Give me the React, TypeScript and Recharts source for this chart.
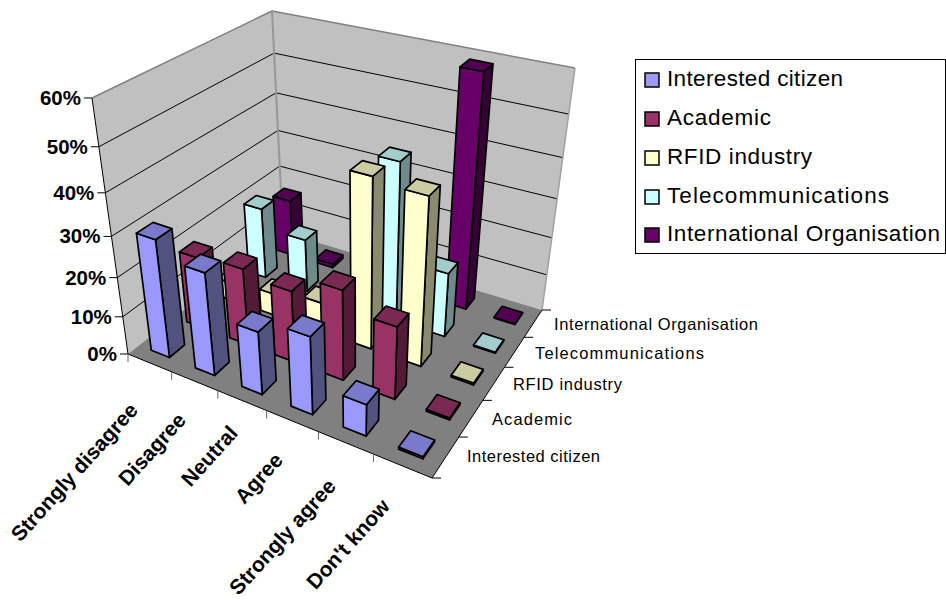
import React from 'react';
import { ScatterChart, Scatter, XAxis, YAxis } from 'recharts';

const categories = ['Strongly disagree', 'Disagree', 'Neutral', 'Agree', 'Strongly agree', "Don't know"];
const seriesNames = ['Interested citizen', 'Academic', 'RFID industry', 'Telecommunications', 'International Organisation'];
const valueTicks = ['0%', '10%', '20%', '30%', '40%', '50%', '60%'];

const interestedCitizen = [30, 26, 16, 19.5, 8, 0.5];
const academic = [19, 20, 18.5, 23, 18.5, 0.5];
const rfidIndustry = [5, 6, 8, 43, 42, 0.5];
const telecommunications = [19.5, 14.5, 3, 41, 17, 0.3];
const internationalOrganisation = [16, 1, 0, 0, 59, 0.2];
const seriesValues = [interestedCitizen, academic, rfidIndustry, telecommunications, internationalOrganisation];

const fills = ['#9999FF', '#993366', '#FFFFCC', '#CCFFFF', '#660066'];
const topFills = ['#7A7ACC', '#7A2952', '#CCCCA3', '#A3CCCC', '#520052'];
const sideFills = ['#52527F', '#521B37', '#8A8A6E', '#6E8A8A', '#360036'];

const W = 946;
const H = 601;
const MAX = 60;
const BAR = 0.42;

type P = [number, number];

const homography = (q: P[]) => {
  const [[x0, y0], [x1, y1], [x2, y2], [x3, y3]] = q;
  const dx1 = x1 - x2, dx2 = x3 - x2, sx = x0 - x1 + x2 - x3;
  const dy1 = y1 - y2, dy2 = y3 - y2, sy = y0 - y1 + y2 - y3;
  const det = dx1 * dy2 - dx2 * dy1;
  const g = (sx * dy2 - dx2 * sy) / det;
  const h = (dx1 * sy - sx * dy1) / det;
  const a = x1 - x0 + g * x1, b = x3 - x0 + h * x3;
  const d = y1 - y0 + g * y1, e = y3 - y0 + h * y3;
  return (u: number, v: number): P => {
    const z = g * u + h * v + 1;
    return [(a * u + b * v + x0) / z, (d * u + e * v + y0) / z];
  };
};

const floor = homography([[128, 354], [432, 478], [542, 310], [283, 232]]);
const ceiling = homography([[92, 98], [452, 200], [575, 68], [272, 11]]);
const SHRINK = 0.85;

const project = (u: number, v: number, value: number): P => {
  const w = value / MAX;
  const t = (w * SHRINK) / (1 - w + w * SHRINK);
  const f = floor(u, v);
  const c = ceiling(u, v);
  return [f[0] + (c[0] - f[0]) * t, f[1] + (c[1] - f[1]) * t];
};

const pts = (list: P[]) => list.map((p) => `${p[0].toFixed(1)},${p[1].toFixed(1)}`).join(' ');

const nC = categories.length;
const nS = seriesNames.length;
const FONT = '"Liberation Sans", Arial, sans-serif';

const tables = seriesValues.map((vals, s) =>
  vals.map((value, c) => {
    const [x, y] = project((c + 0.5) / nC, (s + 0.5) / nS, 0);
    return { x, y, c, s, value };
  }),
);

const BarShape = (props: any) => {
  const { cx, cy, payload } = props;
  const { c, s, value, x, y } = payload;
  const ox = cx - x, oy = cy - y;
  const u0 = (c + 0.5 - BAR / 2) / nC, u1 = (c + 0.5 + BAR / 2) / nC;
  const v0 = (s + 0.5 - BAR / 2) / nS, v1 = (s + 0.5 + BAR / 2) / nS;
  const at = (u: number, v: number, val: number): P => {
    const p = project(u, v, val);
    return [p[0] + ox, p[1] + oy];
  };
  const common = { stroke: '#000', strokeWidth: 1.7, strokeLinejoin: 'round' as const };
  return (
    <g>
      <polygon points={pts([at(u1, v0, 0), at(u1, v1, 0), at(u1, v1, value), at(u1, v0, value)])} fill={sideFills[s]} {...common} />
      <polygon points={pts([at(u0, v0, 0), at(u1, v0, 0), at(u1, v0, value), at(u0, v0, value)])} fill={fills[s]} {...common} />
      <polygon points={pts([at(u0, v0, value), at(u1, v0, value), at(u1, v1, value), at(u0, v1, value)])} fill={topFills[s]} {...common} />
    </g>
  );
};

const catLabelEnds: P[] = [[139, 411], [187, 421], [239, 434], [284, 461], [337, 487], [391, 507]];
const seriesLabelStarts: P[] = [[467, 456], [492, 419], [513, 384], [535, 353], [554, 324]];
const seriesLabelWidths = [133, 80, 109, 169, 204];
const legendRows = [79, 118, 157, 196, 234];
const legendWidths = [176, 104, 145, 222, 273];

const Backdrop = () => {
  const line = (a: P, b: P, stroke: string, sw: number, key: string) => (
    <line key={key} x1={a[0]} y1={a[1]} x2={b[0]} y2={b[1]} stroke={stroke} strokeWidth={sw} />
  );
  return (
    <g>
      <polygon points={pts([project(0, 0, 0), project(0, 1, 0), project(0, 1, MAX), project(0, 0, MAX)])} fill="#C0C0C0" />
      <polygon points={pts([project(0, 1, 0), project(1, 1, 0), project(1, 1, MAX), project(0, 1, MAX)])} fill="#C0C0C0" />
      <polygon points={pts([project(0, 0, 0), project(1, 0, 0), project(1, 1, 0), project(0, 1, 0)])} fill="#808080" />
      {valueTicks.slice(1, -1).map((_, i) => {
        const val = (i + 1) * 10;
        return (
          <g key={val}>
            {line(project(0, 0, val), project(0, 1, val), '#000', 1, 'a')}
            {line(project(0, 1, val), project(1, 1, val), '#000', 1, 'b')}
          </g>
        );
      })}
      {line(project(0, 0, MAX), project(0, 1, MAX), '#808080', 1.5, 'tl')}
      {line(project(0, 1, MAX), project(1, 1, MAX), '#808080', 1.5, 'tr')}
      {line(project(0, 1, 0), project(0, 1, MAX), '#969696', 2, 'corner')}
      {line(project(1, 1, 0), project(1, 1, MAX), '#A0A0A0', 1.5, 'right')}
      {line(project(0, 0, 0), project(0, 0, MAX), '#000', 1, 'vaxis')}
      {line(project(0, 0, 0), project(1, 0, 0), '#000', 1, 'front')}
      {line(project(1, 0, 0), project(1, 1, 0), '#000', 1, 'side')}
      {valueTicks.map((t, i) => {
        const p = project(0, 0, i * 10);
        return (
          <g key={t}>
            <line x1={p[0] - 8} y1={p[1]} x2={p[0]} y2={p[1]} stroke="#000" strokeWidth={1} />
            <text x={p[0] - 11} y={p[1] + 7} textAnchor="end" fontFamily={FONT} fontSize={20.5} fontWeight="bold" fill="#000">{t}</text>
          </g>
        );
      })}
      {categories.map((_, i) => {
        const p = project(i / nC, 0, 0);
        return <line key={`ct${i}`} x1={p[0]} y1={p[1]} x2={p[0]} y2={p[1] + 8} stroke="#666" strokeWidth={1} />;
      })}
      {[...seriesNames, ''].map((_, i) => {
        const p = project(1, i / nS, 0);
        return <line key={`st${i}`} x1={p[0]} y1={p[1]} x2={p[0] + 9} y2={p[1]} stroke="#000" strokeWidth={1} />;
      })}
      {categories.map((c, i) => (
        <text key={c} transform={`translate(${catLabelEnds[i][0]},${catLabelEnds[i][1]}) rotate(-48)`} textAnchor="end" fontFamily={FONT} fontSize={21} fontWeight="bold" fill="#000">{c}</text>
      ))}
      {seriesNames.map((n, i) => (
        <text key={n} x={seriesLabelStarts[i][0]} y={seriesLabelStarts[i][1] + 6} fontFamily={FONT} fontSize={16.5} fill="#000" textLength={seriesLabelWidths[i]} lengthAdjust="spacing">{n}</text>
      ))}
      <rect x={635.5} y={59.5} width={310} height={194} fill="#fff" stroke="#000" strokeWidth={1} />
      {seriesNames.map((n, i) => (
        <g key={`lg${n}`}>
          <rect x={645} y={legendRows[i] - 6} width={14} height={14} fill={fills[i]} stroke="#000" strokeWidth={1.5} />
          <text x={667} y={legendRows[i] + 7} fontFamily={FONT} fontSize={22.5} fill="#000" textLength={legendWidths[i]} lengthAdjust="spacing">{n}</text>
        </g>
      ))}
    </g>
  );
};

export default function App() {
  return (
    <div style={{ position: 'absolute', left: 0, top: 0, width: W, height: H }}>
      <ScatterChart width={W} height={H} margin={{ top: 0, right: 0, bottom: 0, left: 0 }}>
        <XAxis type="number" dataKey="x" domain={[0, W]} hide />
        <YAxis type="number" dataKey="y" domain={[0, H]} reversed hide />
        <Scatter data={[{ x: 0, y: 0 }]} isAnimationActive={false} shape={() => <Backdrop />} />
        {[4, 3, 2, 1, 0].map((s) => (
          <Scatter key={s} name={seriesNames[s]} data={tables[s]} fill={fills[s]} isAnimationActive={false} shape={(p: any) => <BarShape {...p} />} />
        ))}
      </ScatterChart>
    </div>
  );
}
